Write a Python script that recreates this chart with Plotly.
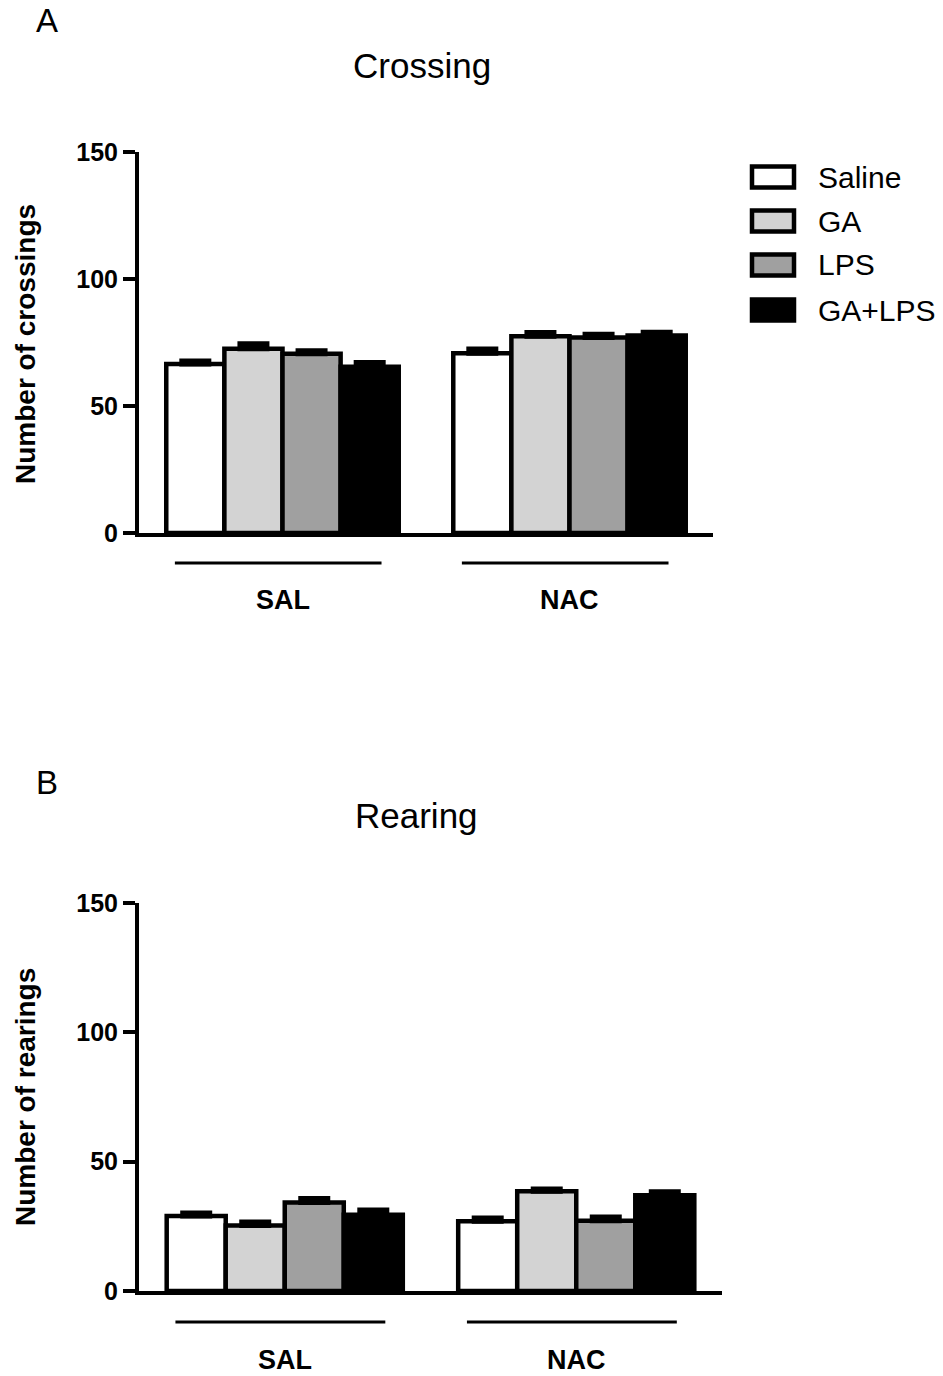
import plotly.graph_objects as go

W, H = 943, 1376

groups = ["SAL", "NAC"]
treatments = ["Saline", "GA", "LPS", "GA+LPS"]
colors = ["#ffffff", "#d3d3d3", "#a0a0a0", "#000000"]

# Crossing (panel A): values for [SAL, NAC]
cross_saline = [66.5, 70.8]
cross_ga = [72.5, 77.5]
cross_lps = [70.6, 77.0]
cross_galps = [65.5, 77.8]
cross_sem_saline = [1.2, 1.6]
cross_sem_ga = [2.0, 1.4]
cross_sem_lps = [1.2, 1.2]
cross_sem_galps = [1.6, 1.2]

# Rearing (panel B): values for [SAL, NAC]
rear_saline = [29.0, 27.0]
rear_ga = [25.3, 38.6]
rear_lps = [34.2, 27.2]
rear_galps = [29.5, 37.0]
rear_sem_saline = [1.2, 1.2]
rear_sem_ga = [1.4, 0.8]
rear_sem_lps = [1.6, 1.4]
rear_sem_galps = [1.8, 1.4]

y_ticks = [0, 50, 100, 150]

FONT = "Liberation Sans, Arial, sans-serif"

cross_vals = [cross_saline, cross_ga, cross_lps, cross_galps]
cross_sems = [cross_sem_saline, cross_sem_ga, cross_sem_lps, cross_sem_galps]
rear_vals = [rear_saline, rear_ga, rear_lps, rear_galps]
rear_sems = [rear_sem_saline, rear_sem_ga, rear_sem_lps, rear_sem_galps]

fig = go.Figure()

def add_bars(vals, sems, xa, ya):
    for name, col, v, s in zip(treatments, colors, vals, sems):
        fig.add_trace(go.Bar(
            x=groups, y=v, name=name, xaxis=xa, yaxis=ya,
            marker=dict(color=col, line=dict(color="black", width=4.5)),
            error_y=dict(type="data", symmetric=False, array=s,
                         arrayminus=[0] * len(s), color="black",
                         thickness=5, width=16),
            showlegend=False, offsetgroup=name,
        ))

add_bars(cross_vals, cross_sems, "x", "y")
add_bars(rear_vals, rear_sems, "x2", "y2")

def px_x(p):
    return p / W

def px_y(p):
    return 1 - p / H

axis_common = dict(showgrid=False, zeroline=False, showline=True,
                   linecolor="black", linewidth=4, automargin=False)

fig.update_layout(
    template="none",
    width=W, height=H,
    margin=dict(l=0, r=0, t=0, b=0, pad=0, autoexpand=False),
    paper_bgcolor="white", plot_bgcolor="white",
    showlegend=False,
    barmode="group", bargap=0.19, bargroupgap=0,
    xaxis=dict(domain=[px_x(139), px_x(713)], anchor="y", type="category",
               range=[-0.5, 1.5], showticklabels=False, ticks="", **axis_common),
    yaxis=dict(domain=[px_y(533), px_y(152)], anchor="x", range=[0, 150],
               tickvals=y_ticks, ticks="outside", ticklen=12, tickwidth=4,
               tickcolor="black",
               tickfont=dict(family=FONT, size=25, color="black", weight="bold"),
               **axis_common),
    xaxis2=dict(domain=[px_x(139), px_x(722)], anchor="y2", type="category",
                range=[-0.5, 1.5], showticklabels=False, ticks="", **axis_common),
    yaxis2=dict(domain=[px_y(1291), px_y(903)], anchor="x2", range=[0, 150],
                tickvals=y_ticks, ticks="outside", ticklen=12, tickwidth=4,
                tickcolor="black",
                tickfont=dict(family=FONT, size=25, color="black", weight="bold"),
                **axis_common),
)

ann = []
shapes = []

def text(x, y, s, size, bold=False, angle=0, xanchor="center"):
    ann.append(dict(x=x, y=y, xref="paper", yref="paper", text=s,
                    showarrow=False, xanchor=xanchor, yanchor="middle",
                    textangle=angle,
                    font=dict(family=FONT, size=size, color="black",
                              weight="bold" if bold else "normal")))

# panel letters and titles
text(px_x(47), px_y(21), "A", 33)
text(px_x(422), px_y(65), "Crossing", 35)
text(px_x(47), px_y(783), "B", 33)
text(px_x(416), px_y(815), "Rearing", 35)

# y-axis titles
text(px_x(25), px_y(344), "Number of crossings", 28, bold=True, angle=-90)
text(px_x(25), px_y(1097), "Number of rearings", 28, bold=True, angle=-90)

# group underlines and labels
for xr, line_y, lab_y in [("x", 563, 600), ("x2", 1322, 1360)]:
    for i, g in enumerate(groups):
        shapes.append(dict(type="line", xref=xr, yref="paper",
                           x0=i - 0.375, x1=i + 0.345,
                           y0=px_y(line_y), y1=px_y(line_y),
                           line=dict(color="black", width=3)))
        ann.append(dict(x=g, y=px_y(lab_y), xref=xr, yref="paper", text=g,
                        showarrow=False, xanchor="center", yanchor="middle",
                        font=dict(family=FONT, size=27, color="black",
                                  weight="bold")))

# legend
leg_y = [177, 221, 265, 310]
for name, col, yy in zip(treatments, colors, leg_y):
    shapes.append(dict(type="rect", xref="paper", yref="paper",
                       x0=px_x(752), x1=px_x(794),
                       y0=px_y(yy + 10.5), y1=px_y(yy - 10.5),
                       fillcolor=col, line=dict(color="black", width=4.5)))
    text(px_x(816), px_y(yy), name, 30, xanchor="left")

fig.update_layout(annotations=ann, shapes=shapes)

fig.write_html("out.html")
